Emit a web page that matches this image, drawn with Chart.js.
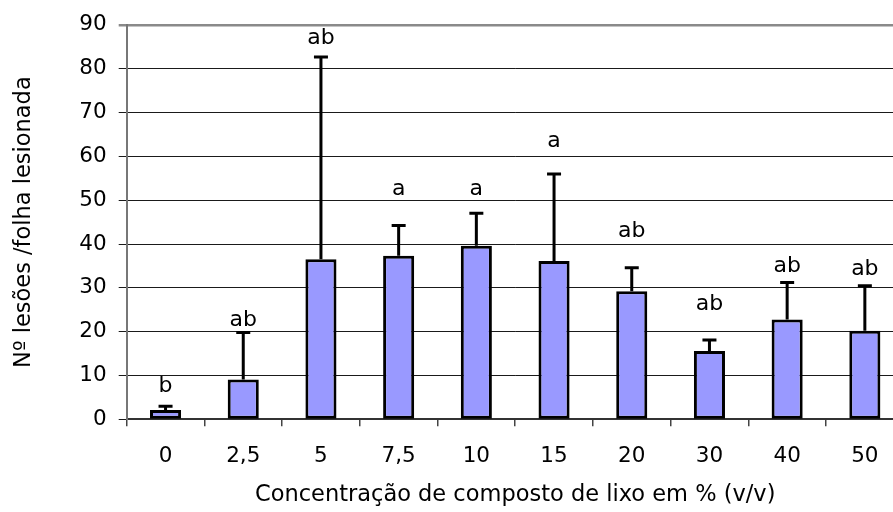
<!DOCTYPE html>
<html>
<head>
<meta charset="utf-8">
<script src="https://cdn.jsdelivr.net/npm/chart.js@4/dist/chart.umd.min.js"></script>
<style>
  html, body { margin: 0; padding: 0; background: #fff; overflow: hidden; }
  #wrap { width: 893px; height: 512px; overflow: hidden; }
  canvas { display: block; }
</style>
</head>
<body>
<div id="wrap"><canvas id="chart" width="910" height="512"></canvas></div>
<script>
// Compost concentrations (% v/v)
const categories = ['0', '2,5', '5', '7,5', '10', '15', '20', '30', '40', '50'];
// Mean number of lesions per injured leaf
const means = [2.1, 9.1, 36.5, 37.3, 39.6, 36.1, 29.2, 15.6, 22.8, 20.2];
// Upper error (standard deviation) for each mean
const errors = [0.9, 10.7, 46.2, 6.9, 7.4, 19.9, 5.4, 2.5, 8.4, 10.3];
// Significance letters and the axis value at which each one sits
const letters = ['b', 'ab', 'ab', 'a', 'a', 'a', 'ab', 'ab', 'ab', 'ab'];
const letterLevels = [6.3, 21.3, 85.6, 51.1, 51.1, 62.1, 41.7, 24.9, 33.6, 32.9];
// Value axis ticks
const yMin = 0, yMax = 90, yStep = 10;

const FONT = 'DejaVu Sans';

const errorBars = {
  id: 'errorBars',
  afterDatasetsDraw(chart) {
    const meta = chart.getDatasetMeta(0);
    const yScale = chart.scales.y;
    const ctx = chart.ctx;
    ctx.save();
    ctx.strokeStyle = '#000';
    ctx.lineWidth = 3;
    ctx.lineCap = 'butt';
    meta.data.forEach((bar, i) => {
      const top = yScale.getPixelForValue(means[i] + errors[i]);
      ctx.beginPath();
      ctx.moveTo(bar.x, bar.y);
      ctx.lineTo(bar.x, top);
      ctx.moveTo(bar.x - 7, top);
      ctx.lineTo(bar.x + 7, top);
      ctx.stroke();
    });
    ctx.fillStyle = '#000';
    ctx.font = '22px "' + FONT + '"';
    ctx.textAlign = 'center';
    ctx.textBaseline = 'alphabetic';
    meta.data.forEach((bar, i) => {
      ctx.fillText(letters[i], bar.x, yScale.getPixelForValue(letterLevels[i]));
    });
    ctx.restore();
  }
};

new Chart(document.getElementById('chart'), {
  type: 'bar',
  data: {
    labels: categories,
    datasets: [{
      data: means,
      backgroundColor: '#9999FF',
      borderColor: '#000',
      borderWidth: 3,
      borderSkipped: false,
      barPercentage: 0.40,
      categoryPercentage: 1.0
    }]
  },
  options: {
    responsive: false,
    devicePixelRatio: 1,
    animation: false,
    layout: { padding: { top: 24, right: 6.3, left: 0, bottom: 0 } },
    plugins: {
      legend: { display: false },
      tooltip: { enabled: false }
    },
    scales: {
      x: {
        afterFit(scale) { scale.height = 92.7; },
        grid: {
          offset: true,
          drawOnChartArea: false,
          tickLength: 7,
          color: '#444',
          lineWidth: 1.5
        },
        border: { color: '#333', width: 2 },
        ticks: {
          color: '#000',
          font: { family: FONT, size: 21.5 },
          padding: 17,
          maxRotation: 0
        },
        title: {
          display: true,
          text: 'Concentração de composto de lixo em % (v/v)',
          color: '#000',
          font: { family: FONT, size: 22.5 },
          padding: { top: 0, bottom: 3 }
        }
      },
      y: {
        min: yMin,
        max: yMax,
        afterFit(scale) { scale.width = 126.7; },
        grid: {
          tickLength: 8,
          color: (c) => (c.tick && c.tick.value === yMax) ? '#8a8a8a' : '#1a1a1a',
          lineWidth: (c) => (c.tick && c.tick.value === yMax) ? 2.5 : 1
        },
        border: { color: '#777', width: 2 },
        ticks: {
          stepSize: yStep,
          color: '#000',
          font: { family: FONT, size: 21.5 },
          padding: 12
        },
        title: {
          display: true,
          text: 'Nº lesões /folha lesionada',
          color: '#000',
          font: { family: FONT, size: 22.5 },
          padding: { top: 11, bottom: 0 }
        }
      }
    }
  },
  plugins: [errorBars]
});
</script>
</body>
</html>
